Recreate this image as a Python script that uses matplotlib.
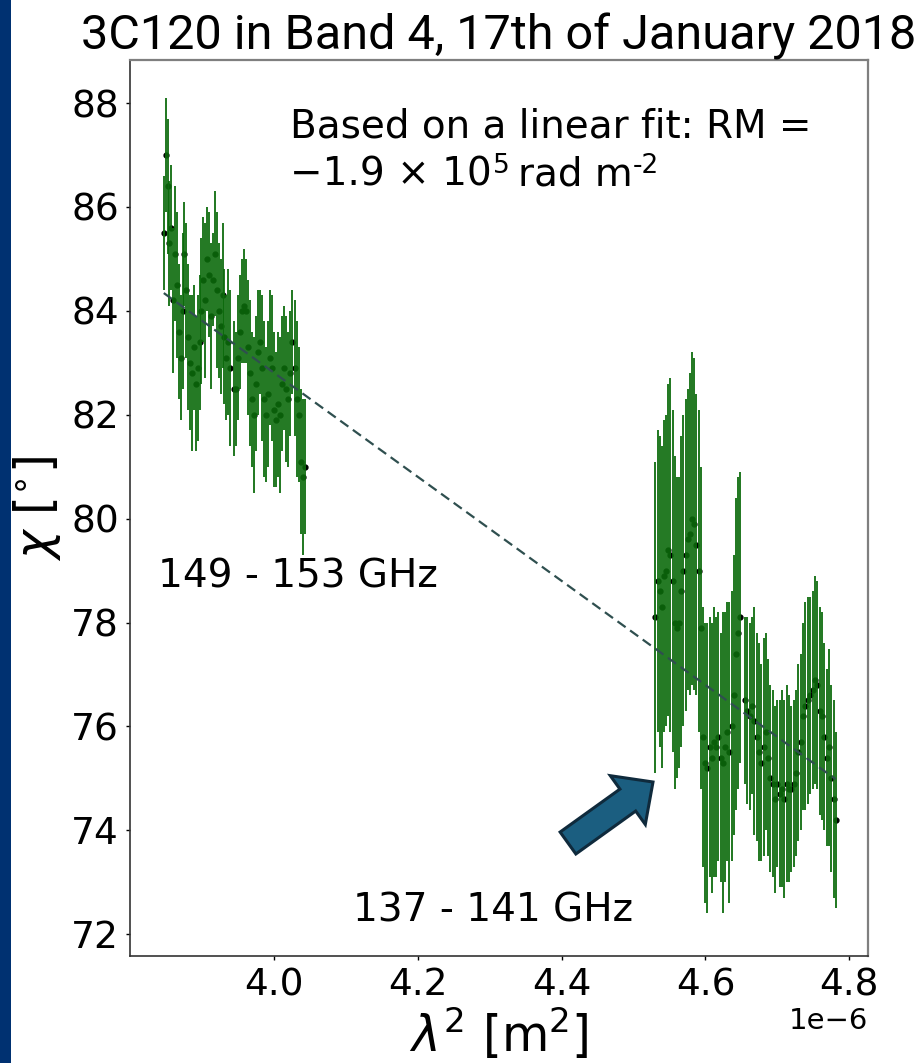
import numpy as np
import matplotlib
matplotlib.use("Agg")
import matplotlib.pyplot as plt
from matplotlib.patches import FancyArrow, Rectangle
from matplotlib.transforms import IdentityTransform

# ---------------- data ----------------
C_LIGHT = 2.998e8  # m/s

# spectral-window frequency edges (GHz), ordered by increasing lambda^2
spw_D_freq = (152.85, 151.05)
spw_C_freq = (150.95, 149.10)
spw_B_freq = (140.85, 139.05)
spw_A_freq = (138.95, 137.10)

chi_D = [85.5, 87.0, 86.4, 85.3, 85.6, 84.2, 85.1, 84.5, 83.6, 83.1, 84.0, 85.1,
         84.4, 83.5, 83.0, 82.8, 83.3, 82.6, 82.9, 83.4, 84.0, 84.6, 84.2, 85.0,
         84.7, 83.9, 84.6, 85.1, 84.4, 84.0, 83.7, 84.3, 83.5, 83.1, 83.4, 82.9]
err_D = [1.1, 1.1, 1.3, 1.2, 1.2, 1.4, 1.3, 1.4, 1.3, 1.2, 1.5, 1.0,
         1.3, 1.4, 1.3, 1.5, 1.2, 1.3, 1.4, 1.3, 1.4, 1.2, 1.5, 1.0,
         1.2, 1.4, 0.9, 1.2, 1.5, 1.3, 1.3, 1.4, 1.3, 1.2, 1.4, 1.5]

chi_C = [82.5, 82.5, 83.1, 83.6, 84.0, 84.1, 84.0, 83.3, 82.8, 82.3, 82.0, 82.6,
         83.2, 83.4, 82.9, 82.3, 82.0, 82.4, 83.1, 82.9, 82.1, 81.9, 82.2, 82.0,
         82.6, 82.9, 82.5, 82.3, 82.8, 83.4, 82.9, 82.3, 82.0, 81.1, 80.8, 81.0]
err_C = [1.3, 1.1, 1.2, 1.1, 1.0, 1.1, 1.0, 1.3, 1.4, 1.3, 1.5, 1.3,
         1.2, 1.0, 1.4, 1.5, 1.3, 1.4, 1.3, 1.4, 1.5, 1.3, 1.4, 1.5,
         1.3, 1.2, 1.4, 1.3, 1.2, 1.0, 1.3, 1.5, 1.3, 1.4, 1.5, 1.3]

chi_B = [78.1, 78.8, 78.6, 78.3, 78.9, 79.0, 79.4, 79.3, 78.8, 78.0, 77.9, 78.0,
         78.6, 79.0, 79.3, 79.6, 79.7, 80.0, 79.9, 79.5, 79.0, 77.9, 75.8, 75.3,
         75.2, 75.6, 75.4, 75.7, 75.6, 75.8, 75.4, 75.3, 75.6, 75.9, 75.5, 76.0,
         76.6, 77.4, 77.8, 78.1]
err_B = [3.0, 2.9, 3.0, 3.1, 3.0, 3.0, 3.2, 3.4, 3.3, 3.2, 2.9, 2.8,
         3.0, 3.0, 3.0, 2.9, 3.1, 3.2, 3.2, 2.9, 3.1, 3.1, 2.5, 2.7,
         2.8, 2.5, 2.6, 2.6, 2.5, 2.4, 2.4, 2.9, 2.6, 2.5, 2.9, 2.6,
         2.7, 3.0, 3.0, 2.8]

chi_A = [76.5, 76.3, 76.2, 76.4, 76.1, 75.8, 75.5, 75.3, 75.6, 75.9, 75.4, 75.0,
         74.9, 74.6, 74.9, 74.7, 74.8, 74.6, 74.9, 74.8, 74.8, 74.9, 75.1, 75.5,
         75.7, 76.2, 76.4, 76.5, 76.6, 76.7, 76.9, 76.8, 76.3, 76.2, 75.8, 75.4,
         75.6, 75.0, 74.6, 74.2]
err_A = [1.6, 1.8, 1.8, 1.7, 2.2, 2.0, 2.1, 1.9, 2.1, 1.9, 1.9, 1.8,
         1.8, 1.8, 1.6, 1.8, 1.9, 1.9, 1.9, 1.8, 1.6, 1.6, 1.6, 1.7,
         1.7, 1.8, 2.0, 2.0, 1.9, 1.9, 2.0, 2.0, 2.0, 2.0, 1.8, 1.7,
         1.9, 1.8, 1.9, 1.7]

# linear fit chi = a + b * lambda^2  (deg, deg/m^2)
fit_intercept = 122.89
fit_slope = -1.002e7
fit_lam2_range = (3.847e-6, 4.781e-6)

xticks = [4.0e-6, 4.2e-6, 4.4e-6, 4.6e-6, 4.8e-6]
yticks = [72, 74, 76, 78, 80, 82, 84, 86, 88]

title_text = "3C120 in Band 4, 17th of January 2018"
label_low = "149 - 153 GHz"
label_high = "137 - 141 GHz"

plt.rcParams["font.family"] = ["DejaVu Sans"]

# ---------------- figure ----------------
W, H, DPI = 919, 1063, 100
fig = plt.figure(figsize=(W / DPI, H / DPI), dpi=DPI)
fig.patch.set_facecolor("white")

# dark blue slide strip on the left
fig.add_artist(Rectangle((0, 0), 11 / W, 1, transform=fig.transFigure,
                         facecolor="#003171", edgecolor="none", zorder=0))

ax = fig.add_axes([130 / W, 1 - 956 / H, (868 - 130) / W, (956 - 60) / H])

for fr, chi, err in [(spw_D_freq, chi_D, err_D), (spw_C_freq, chi_C, err_C),
                     (spw_B_freq, chi_B, err_B), (spw_A_freq, chi_A, err_A)]:
    freq = np.linspace(fr[0], fr[1], len(chi)) * 1e9
    lam2 = (C_LIGHT / freq) ** 2
    ax.plot(lam2, chi, "o", color="black", ms=3.5, zorder=2)
    ax.errorbar(lam2, chi, yerr=err, fmt="none", ecolor="#0b6a0b",
                elinewidth=1.35, alpha=0.95, zorder=3)

fx = np.array(fit_lam2_range)
ax.plot(fx, fit_intercept + fit_slope * fx, color="#2f4f4f", lw=1.6,
        dashes=(4.5, 2.5), zorder=4)

ax.set_xlim(3.8e-6, 4.826e-6)
ax.set_ylim(71.58, 88.83)
ax.set_xticks(xticks)
ax.set_yticks(yticks)

ax.tick_params(length=3, width=1, pad=5, labelsize=27)
ax.xaxis.get_offset_text().set_fontsize(21)

for s in ["left", "bottom"]:
    ax.spines[s].set_color("#333333")
    ax.spines[s].set_linewidth(1.2)
for s in ["top", "right"]:
    ax.spines[s].set_color("#7f7f7f")
    ax.spines[s].set_linewidth(1.6)

ax.set_title(title_text, fontsize=35, pad=7, family=["Roboto", "DejaVu Sans"])
ax.set_xlabel(r"$\lambda^2$ [m$^2$]", fontsize=35, labelpad=2)
ax.set_ylabel(r"$\chi$ [$^{\circ}$]", fontsize=35, labelpad=6)

# ---------------- slide overlays ----------------
ov = dict(family="DejaVu Sans", color="black")
OVS = 28
SUP = OVS * 0.68


def fx_(px):
    return px / W


def fy_(py):
    return 1 - py / H


fig.text(fx_(290), fy_(137), "Based on a linear fit: RM =", fontsize=OVS,
         va="baseline", ha="left", **ov)
t1 = fig.text(fx_(290), fy_(193), "\u22121.9 \u00d7 10", fontsize=OVS,
              va="bottom", ha="left", **ov)
t2 = ax.annotate("5", xy=(1, 0), xycoords=t1, xytext=(0.5, 10),
                 textcoords="offset points", va="bottom", ha="left",
                 fontsize=SUP, **ov)
t3 = ax.annotate("rad m", xy=(1, 0), xycoords=t2, xytext=(6, -10),
                 textcoords="offset points", va="bottom", ha="left",
                 fontsize=OVS, **ov)
ax.annotate("-2", xy=(1, 0), xycoords=t3, xytext=(0.5, 10),
            textcoords="offset points", va="bottom", ha="left",
            fontsize=SUP, **ov)

fig.text(fx_(158), fy_(588), label_low, fontsize=OVS, va="baseline",
         ha="left", **ov)
fig.text(fx_(353), fy_(922), label_high, fontsize=OVS, va="baseline",
         ha="left", **ov)

# block arrow (display pixels)
tail = (568, H - 843)
tip = (653, H - 782)
arrow = FancyArrow(tail[0], tail[1], tip[0] - tail[0], tip[1] - tail[1],
                   width=27, head_width=60, head_length=31,
                   length_includes_head=True, transform=IdentityTransform(),
                   facecolor="#1b5e80", edgecolor="#0f2a3c", linewidth=2.2,
                   zorder=10)
fig.add_artist(arrow)

fig.savefig("out.png", dpi=DPI)
